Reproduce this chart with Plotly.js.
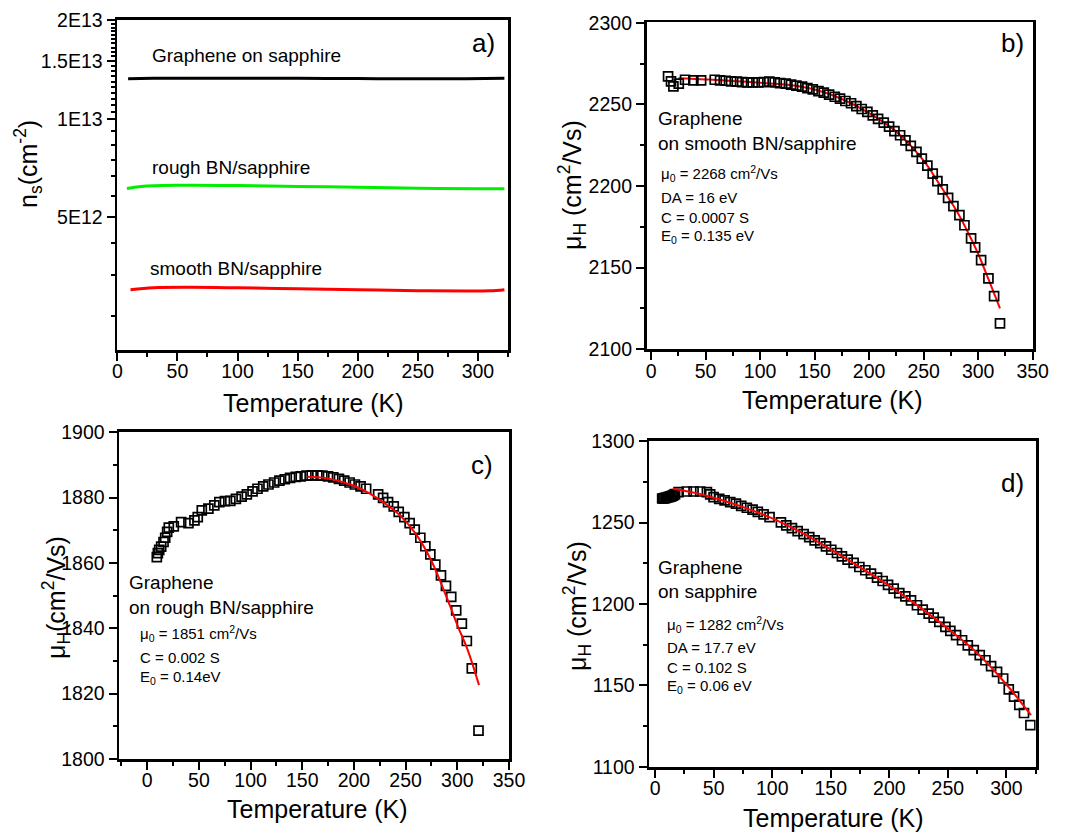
<!DOCTYPE html>
<html>
<head>
<meta charset="utf-8">
<script src="https://cdn.plot.ly/plotly-3.0.1.min.js"></script>
<style>html,body{margin:0;padding:0;background:#fff;}#chart{width:1083px;height:832px;}</style>
</head>
<body>
<div id="chart"></div>
<script>
// ---------- Panel a: carrier density vs temperature ----------
const aBlackT = [9, 30, 60, 100, 150, 200, 250, 290, 322];
const aBlackN = [1.326e13, 1.329e13, 1.33e13, 1.33e13, 1.329e13, 1.327e13, 1.326e13, 1.326e13, 1.33e13];
const aGreenT = [8, 20, 50, 100, 150, 200, 250, 300, 322];
const aGreenN = [6.13e12, 6.22e12, 6.27e12, 6.26e12, 6.22e12, 6.18e12, 6.14e12, 6.12e12, 6.12e12];
const aRedT = [11, 30, 60, 100, 150, 200, 250, 290, 310, 322];
const aRedN = [3.01e12, 3.05e12, 3.06e12, 3.05e12, 3.03e12, 3.01e12, 2.99e12, 2.98e12, 2.985e12, 3.01e12];
const aTickVals = [5e12, 1e13, 1.5e13, 2e13];
const aTickText = ['5E12', '1E13', '1.5E13', '2E13'];
const aMinorVals = [2.5e12, 3.33e12, 4.17e12, 5.83e12, 6.67e12, 7.5e12, 8.33e12, 9.17e12,
  1.05e13, 1.1e13, 1.15e13, 1.2e13, 1.25e13, 1.3e13, 1.35e13, 1.4e13, 1.45e13,
  1.55e13, 1.6e13, 1.65e13, 1.7e13, 1.75e13, 1.8e13, 1.85e13, 1.9e13, 1.95e13];

// ---------- Panel b: graphene on smooth BN/sapphire ----------
const bT = [15.6, 18.3, 20.5, 25.4, 31.2, 38.8, 45.9, 58.4, 63.3, 68.5, 73.4, 78.6, 83.5, 88.4, 93.2, 98.4,
  103.3, 108.5, 113.4, 118.3, 123.5, 128.4, 133.3, 138.5, 143.4, 148.3, 153.5, 158.4, 163.3, 168.5, 173.3,
  178.2, 183.4, 188.3, 193.2, 198.4, 203.3, 208.2, 213.4, 218.3, 223.2, 228.4, 233.3, 238.2, 243.4, 248.3,
  253.4, 258.3, 262.6, 267.5, 272.4, 277.3, 282.8, 287.4, 293.5, 297.2, 302.7, 309.4, 314.6, 320];
const bMu = [2267.2, 2264.1, 2261.0, 2262.7, 2265.1, 2264.7, 2264.7, 2265.1, 2264.7, 2264.5, 2264.1, 2263.9,
  2263.7, 2263.5, 2263.5, 2263.5, 2263.7, 2263.9, 2263.5, 2263.1, 2262.7, 2262.1, 2261.5, 2260.9, 2260.0,
  2259.2, 2258.2, 2257.2, 2256.0, 2254.7, 2253.5, 2252.1, 2250.7, 2249.0, 2247.2, 2245.4, 2243.3, 2241.1,
  2238.8, 2236.4, 2233.7, 2231.1, 2228.0, 2224.6, 2220.9, 2216.8, 2212.5, 2207.6, 2203.0, 2197.9, 2192.8,
  2187.7, 2182.2, 2176.0, 2167.9, 2162.4, 2154.6, 2143.4, 2132.6, 2115.9];
const bFitT = [25, 50, 75, 100, 125, 150, 175, 200, 225, 250, 265, 280, 290, 300, 310, 320];
const bFit = [2266, 2265.3, 2264.3, 2263.3, 2262, 2259.1, 2253.3, 2244.7, 2233.3, 2215.5, 2200.5, 2185,
  2172.5, 2158.5, 2142, 2125];

// ---------- Panel c: graphene on rough BN/sapphire ----------
const cT = [9.3, 10.3, 11.6, 13.5, 15.8, 17.4, 19.3, 20.9, 25.7, 32.8, 39.9, 45.7, 48.9, 52.8, 59.2, 64.9,
  69.8, 75.2, 80.4, 85.8, 91.3, 96.4, 101.9, 106.7, 112.2, 117.3, 122.8, 127.9, 133.1, 138.2, 143.7, 148.5,
  154, 159.1, 164.6, 169.4, 174.9, 180, 185.5, 190.6, 195.8, 200.9, 206.4, 211.8, 223.4, 228.2, 233, 238.5,
  243.3, 248.8, 253.9, 258.8, 264.2, 269.1, 273.9, 278.7, 284.2, 289, 294.1, 298.9, 304.4, 309.2, 314, 320.5];
const cMu = [1861.8, 1863, 1864, 1865, 1866.4, 1867.7, 1869.5, 1870.8, 1871.2, 1872.5, 1872.2, 1873, 1874,
  1876.1, 1876.6, 1877.6, 1878.6, 1878.9, 1879, 1879.6, 1880.3, 1881, 1881.9, 1882.7, 1883.4, 1884, 1884.6,
  1885.2, 1885.6, 1886, 1886.3, 1886.5, 1886.7, 1886.8, 1886.8, 1886.7, 1886.5, 1886.2, 1885.7, 1885.2,
  1884.6, 1884, 1883.4, 1882.7, 1881, 1879.9, 1878.6, 1877.3, 1875.6, 1874, 1872.2, 1870.2, 1867.7, 1865.1,
  1862.6, 1859.5, 1856.2, 1853, 1849.6, 1845.5, 1841.4, 1836.1, 1827.7, 1808.7];
const cFitT = [155, 170, 185, 200, 215, 230, 245, 260, 275, 290, 300, 310, 321];
const cFit = [1886.4, 1886.1, 1885.1, 1883.6, 1881.3, 1878.2, 1874.4, 1868.8, 1860.6, 1849.2, 1841, 1833.4, 1822.6];

// ---------- Panel d: graphene on sapphire ----------
const dT = [6, 7, 8, 9, 10, 11, 12, 13, 14, 15, 16, 17, 20, 27, 32.8, 38.5, 44.2, 47, 49.9, 54.7, 59.3, 64.1,
  69, 73.5, 78.3, 83.2, 87.7, 92.6, 97.7, 107.4, 112, 116.8, 121.7, 126.8, 131.6, 136.2, 141, 145.9, 150.4,
  155.3, 159.5, 164.4, 169.5, 174.4, 179.5, 184.3, 189.5, 194.3, 198.9, 203.7, 208.5, 213.7, 218.5, 223.6,
  228.5, 233.6, 237.9, 242.7, 247.9, 252.1, 257, 262.1, 267, 272.1, 277.2, 282.1, 286.9, 292, 297.2, 302,
  306.5, 311, 315, 320.5];
const dMu = [1264.8, 1264.9, 1265.0, 1265.2, 1265.4, 1265.6, 1265.8, 1266.0, 1266.3, 1266.6, 1267.0, 1267.5,
  1268.7, 1269.1, 1269.1, 1269.1, 1268.7, 1267.3, 1265.6, 1264.6, 1263.6, 1262.6, 1261.6, 1260.3, 1259.1,
  1257.9, 1256.6, 1255.0, 1253.4, 1250.1, 1248.3, 1246.6, 1244.8, 1242.9, 1241.1, 1239.1, 1237.4, 1235.4,
  1233.3, 1231.3, 1229.2, 1227.2, 1225.2, 1222.7, 1220.7, 1218.6, 1216.2, 1214.1, 1211.7, 1209.4, 1206.7,
  1204.7, 1202.2, 1199.2, 1196.5, 1194.1, 1191.6, 1189.0, 1185.9, 1183.4, 1180.8, 1177.7, 1174.6, 1171.6,
  1168.5, 1165.4, 1161.8, 1158.3, 1154.2, 1147.5, 1143, 1138, 1133, 1125.6];
const dFitT = [15, 35, 50, 75, 100, 125, 150, 175, 200, 225, 250, 275, 300, 321];
const dFit = [1270.8, 1268.1, 1265.2, 1259.5, 1252.6, 1243.8, 1233.5, 1222.5, 1211.2, 1198.5, 1184.8,
  1169.8, 1150.5, 1131.7];

const FONT = 'Liberation Sans, Arial, sans-serif';
const W = 1083, H = 832;
const px = x => x / W;
const py = y => 1 - y / H;

function ax(extra) {
  return Object.assign({
    showline: true, linewidth: 2.8, linecolor: 'black', mirror: true,
    ticks: 'outside', ticklen: 8, tickwidth: 2, tickcolor: 'black',
    showgrid: false, zeroline: false, fixedrange: true,
    tickfont: {size: 19.5, family: FONT, color: 'black'},
  }, extra);
}
function xax(extra) { return ax(Object.assign({ticklabelstandoff: -6}, extra)); }
function minor(d) { return {ticks: 'outside', ticklen: 4, tickwidth: 2, tickcolor: 'black', dtick: d, showgrid: false}; }

const sq = {symbol: 'square-open', size: 9, color: 'black', line: {width: 1.7, color: 'black'}};

const traces = [
  {x: aBlackT, y: aBlackN, xaxis: 'x', yaxis: 'y', mode: 'lines', line: {color: 'black', width: 3, shape: 'spline'}},
  {x: aGreenT, y: aGreenN, xaxis: 'x', yaxis: 'y', mode: 'lines', line: {color: '#00ee00', width: 3, shape: 'spline'}},
  {x: aRedT, y: aRedN, xaxis: 'x', yaxis: 'y', mode: 'lines', line: {color: '#ff0000', width: 3, shape: 'spline'}},
  {x: bFitT, y: bFit, xaxis: 'x2', yaxis: 'y2', mode: 'lines', line: {color: '#ff0000', width: 2, shape: 'spline'}},
  {x: bT, y: bMu, xaxis: 'x2', yaxis: 'y2', mode: 'markers', marker: sq},
  {x: cT, y: cMu, xaxis: 'x3', yaxis: 'y3', mode: 'markers', marker: sq},
  {x: cFitT, y: cFit, xaxis: 'x3', yaxis: 'y3', mode: 'lines', line: {color: '#ff0000', width: 2, shape: 'spline'}},
  {x: dT, y: dMu, xaxis: 'x4', yaxis: 'y4', mode: 'markers', marker: sq},
  {x: dFitT, y: dFit, xaxis: 'x4', yaxis: 'y4', mode: 'lines', line: {color: '#ff0000', width: 2, shape: 'spline'}},
];

function txt(x, y, text, size) {
  return {xref: 'paper', yref: 'paper', x: px(x), y: py(y), text: text, showarrow: false,
    xanchor: 'left', yanchor: 'middle', font: {size: size, family: FONT, color: 'black'}};
}
function ctr(x, y, text, size, angle) {
  return {xref: 'paper', yref: 'paper', x: px(x), y: py(y), text: text, showarrow: false,
    xanchor: 'center', yanchor: 'middle', textangle: angle || 0, font: {size: size, family: FONT, color: 'black'}};
}

const TS = 25; // axis title size
const annotations = [
  // panel a
  ctr(483, 43, 'a)', 26),
  txt(150, 55, 'Graphene on sapphire', 19),
  txt(150, 168, 'rough BN/sapphire', 19),
  txt(148, 268, 'smooth BN/sapphire', 19),
  ctr(313, 403, 'Temperature (K)', TS),
  ctr(28, 164, 'n<sub>s</sub>(cm<sup>-2</sup>)', TS, -90),
  // panel b
  ctr(1012, 43, 'b)', 26),
  txt(656, 118, 'Graphene', 19),
  txt(656, 143, 'on smooth BN/sapphire', 19),
  txt(659, 173, 'μ<sub>0</sub> = 2268 cm<sup>2</sup>/Vs', 15),
  txt(659, 197, 'DA = 16 eV', 15),
  txt(659, 217, 'C = 0.0007 S', 15),
  txt(659, 236, 'E<sub>0</sub> = 0.135 eV', 15),
  ctr(832, 400, 'Temperature (K)', TS),
  ctr(572, 185, 'μ<sub>H</sub> (cm<sup>2</sup>/Vs)', TS, -90),
  // panel c
  ctr(482, 465, 'c)', 26),
  txt(127, 582, 'Graphene', 19),
  txt(127, 607, 'on rough BN/sapphire', 19),
  txt(138, 633, 'μ<sub>0</sub> = 1851 cm<sup>2</sup>/Vs', 15),
  txt(138, 657, 'C = 0.002 S', 15),
  txt(138, 677, 'E<sub>0</sub> = 0.14eV', 15),
  ctr(317, 809, 'Temperature (K)', TS),
  ctr(56, 598, 'μ<sub>H</sub>(cm<sup>2</sup>/Vs)', TS, -90),
  // panel d
  ctr(1012, 483, 'd)', 26),
  txt(656, 567, 'Graphene', 19),
  txt(656, 591, 'on sapphire', 19),
  txt(665, 624, 'μ<sub>0</sub> = 1282 cm<sup>2</sup>/Vs', 15),
  txt(665, 647, 'DA = 17.7 eV', 15),
  txt(665, 667, 'C = 0.102 S', 15),
  txt(665, 686, 'E<sub>0</sub> = 0.06 eV', 15),
  ctr(833, 818, 'Temperature (K)', TS),
  ctr(577, 606, 'μ<sub>H</sub> (cm<sup>2</sup>/Vs)', TS, -90),
];

const layout = {
  width: W, height: H, autosize: false,
  margin: {l: 0, r: 0, t: 0, b: 0, pad: 0},
  paper_bgcolor: 'white', plot_bgcolor: 'white',
  showlegend: false,
  font: {family: FONT, color: 'black'},
  xaxis: xax({domain: [px(117.3), px(508)], range: [0, 325], anchor: 'y', tick0: 0, dtick: 50, minor: minor(25)}),
  yaxis: ax({domain: [py(350), py(20)], type: 'log', range: [Math.log10(1.97e12), Math.log10(2.003e13)], anchor: 'x',
    tickmode: 'array', tickvals: aTickVals, ticktext: aTickText,
    minor: {ticks: 'outside', ticklen: 4, tickwidth: 2, tickcolor: 'black', tickmode: 'array', tickvals: aMinorVals, showgrid: false}}),
  xaxis2: xax({domain: [px(646.7), px(1032.7)], range: [-4, 350], anchor: 'y2', tick0: 0, dtick: 50, minor: minor(25)}),
  yaxis2: ax({domain: [py(349.3), py(22.3)], range: [2100, 2300.3], anchor: 'x2', tick0: 2100, dtick: 50, minor: minor(25)}),
  xaxis3: xax({domain: [px(119.3), px(509)], range: [-27, 350], anchor: 'y3', tick0: 0, dtick: 50, minor: minor(25)}),
  yaxis3: ax({domain: [py(759), py(431.7)], range: [1800, 1900.15], anchor: 'x3', tick0: 1800, dtick: 20, minor: minor(10)}),
  xaxis4: xax({domain: [px(649.3), px(1035.7)], range: [-5, 325], anchor: 'y4', tick0: 0, dtick: 50, minor: minor(25)}),
  yaxis4: ax({domain: [py(766.7), py(440.7)], range: [1100, 1300.3], anchor: 'x4', tick0: 1100, dtick: 50, minor: minor(25)}),
  annotations: annotations,
};

Plotly.newPlot('chart', traces, layout, {displayModeBar: false, staticPlot: true});
</script>
</body>
</html>
